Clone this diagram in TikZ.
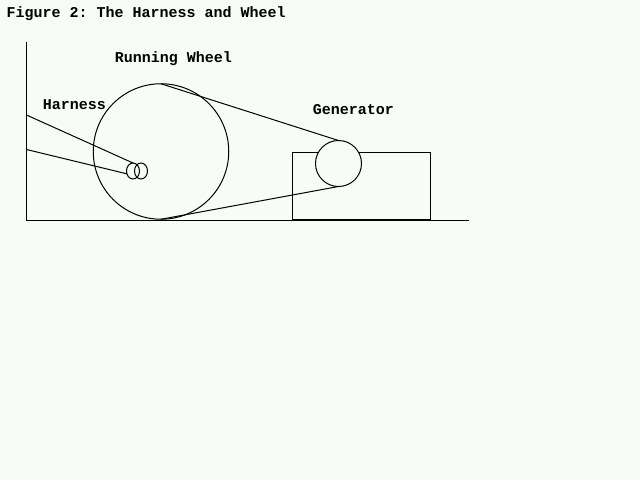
\documentclass[tikz,border=0pt]{standalone}
\usepackage{fontspec}
\setmonofont{Liberation Mono}
\usetikzlibrary{positioning}
\usetikzlibrary{shapes.geometric}
\definecolor{paper}{HTML}{F7FCF7}

\begin{document}
\begin{tikzpicture}[
		x=1pt,y=-1pt,
		line width=1pt,
		wheelpart/.style={draw=black, circle, inner sep=0pt, outer sep=0pt},
		hubpart/.style={draw=black, ellipse, inner sep=0pt, outer sep=0pt, minimum width=13pt, minimum height=16pt},
		caption/.style={inner sep=0pt, text=black, font=\fontsize{15}{15}\selectfont\ttfamily\bfseries},
		connections/.style={draw=black},
	]
	% Fix the page
	\fill[paper] (0,0) rectangle (640,480);
	\useasboundingbox (0,0) rectangle (640,480);
	% Draw diagram elements
	\node (title) [caption,anchor=west] at (6,14) {Figure 2: The Harness and Wheel};
	\coordinate (axistop) at (26.5,42);
	\coordinate (origin) at (26.5,220.3);
	\coordinate (axisend) at (469,220.3);
	\coordinate (harnesstop) at (26.5,115);
	\coordinate (harnesslow) at (26.5,149.5);
	\node (wheel) [wheelpart,minimum size=135.5pt] at (161,151.5) {};
	\node (hubleft) [hubpart] at (133,171) {};
	\node (hubright) [hubpart,right=-5pt of hubleft] {};
	\node (base) [draw=black,inner sep=0pt,outer sep=0pt,minimum width=138pt,minimum height=67.5pt] at (361.3,186) {};
	\node (generator) [wheelpart,fill=paper,minimum size=46pt] at (338.5,163.5) {};
	\node (wheellabel) [caption] at (173.5,59) {Running Wheel};
	\node (harnesslabel) [caption] at (74.5,105) {Harness};
	\node (generatorlabel) [caption] at (353.5,110) {Generator};
	% Draw lines between elements
	\draw[connections] (axistop) -- (origin) -- (axisend);
	\draw[connections] (harnesstop) -- (hubleft.north);
	\draw[connections] (harnesslow) -- (hubleft.205);
	\draw[connections] (wheel.north) -- (generator.north);
	\draw[connections] (wheel.south) -- (generator.south);
\end{tikzpicture}
\end{document}
